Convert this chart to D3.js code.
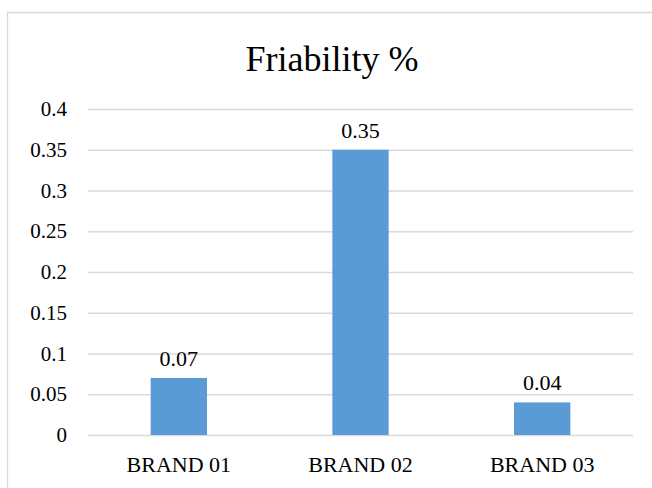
<!DOCTYPE html>
<html>
  <head>
    <meta charset="utf-8">
    <title></title>
  </head>
  <style>
    body{ margin:0; background-color:#fff; }
    .axis path{ display:none }
    .axis .tick line{ opacity:0 }
    #grid line{ stroke:#d9d9d9; stroke-width:1.3 }
    #grid path{ display:none }
  </style>
  <script src="https://cdn.jsdelivr.net/npm/d3@7"></script>
  <body>
    <script>
    const categories = ["BRAND 01", "BRAND 02", "BRAND 03"]
    const values = [0.07, 0.35, 0.04]
    const yTicks = [0, 0.05, 0.1, 0.15, 0.2, 0.25, 0.3, 0.35, 0.4]
    const title = "Friability %"

    var FONT = "'Liberation Serif'"
    var W = 652, H = 488
    var padding = { left:88, top:109, right:19, bottom:53 }
    var width = W - padding.left - padding.right
    var height = H - padding.top - padding.bottom

    var svg = d3.select("body").append("svg")
                .attr("width", W)
                .attr("height", H)

    // outer frame (right and bottom run off the picture)
    svg.append("path")
       .attr("d", "M7.5," + H + "V12.5H" + W)
       .attr("fill", "none")
       .attr("stroke", "#d9d9d9")
       .attr("stroke-width", 1.3)

    svg.append("text")
       .attr("x", W/2 + 6)
       .attr("y", 71)
       .attr("text-anchor", "middle")
       .style("font-family", FONT)
       .style("font-size", "36px")
       .attr("fill", "#000")
       .text(title)

    var g = svg.append("g")
               .attr("transform", "translate(" + padding.left + "," + padding.top + ")")

    var yScale = d3.scaleLinear().domain([0, 0.4]).range([height, 0])
    var xScale = d3.scaleBand().domain(categories).range([0, width]).paddingInner(0.69).paddingOuter(0.345)

    // gridlines
    g.append("g")
     .attr("id", "grid")
     .call(d3.axisLeft(yScale).tickValues(yTicks).tickSize(-width).tickFormat(""))

    // y axis
    var yAxis = g.append("g")
     .attr("class", "axis")
     .call(d3.axisLeft(yScale).tickValues(yTicks).tickSize(0).tickPadding(21).tickFormat(function(d){ return String(+d.toFixed(2)) }))
    yAxis.attr("font-family", null)
    yAxis.selectAll("text")
     .style("font-family", FONT)
     .style("font-size", "21px")
     .attr("fill", "#000")

    // x axis
    var xAxis = g.append("g")
     .attr("class", "axis")
     .attr("transform", "translate(0," + height + ")")
     .call(d3.axisBottom(xScale).tickSize(0).tickPadding(21))
    xAxis.attr("font-family", null)
    xAxis.selectAll("text")
     .style("font-family", FONT)
     .style("font-size", "22px")
     .attr("fill", "#000")

    // bars
    g.selectAll("rect.bar")
     .data(values)
     .enter()
     .append("rect")
     .attr("class", "bar")
     .attr("x", function(d, i){ return xScale(categories[i]) })
     .attr("y", function(d){ return yScale(d) })
     .attr("width", xScale.bandwidth())
     .attr("height", function(d){ return height - yScale(d) })
     .attr("fill", "#5b9bd5")

    // value labels
    g.selectAll("text.label")
     .data(values)
     .enter()
     .append("text")
     .attr("class", "label")
     .attr("x", function(d, i){ return xScale(categories[i]) + xScale.bandwidth()/2 })
     .attr("y", function(d){ return yScale(d) - 12 })
     .attr("text-anchor", "middle")
     .style("font-family", FONT)
     .style("font-size", "22px")
     .attr("fill", "#000")
     .text(function(d){ return d })
    </script>
  </body>
</html>
